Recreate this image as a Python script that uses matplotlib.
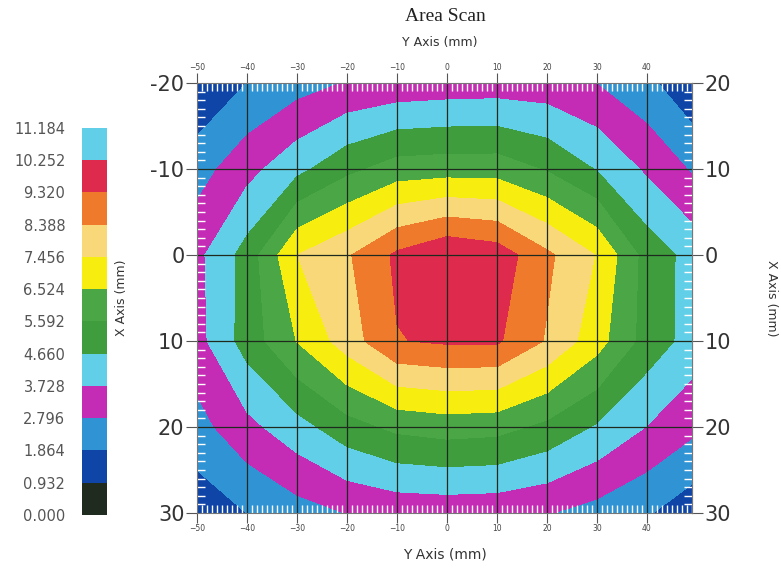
import numpy as np
import matplotlib
matplotlib.use("Agg")
import matplotlib.pyplot as plt
from matplotlib.colors import ListedColormap, BoundaryNorm
from matplotlib.ticker import MultipleLocator

# scan grid (mm)
y_axis_mm = [-50, -40, -30, -20, -10, 0, 10, 20, 30, 40, 50]
x_axis_mm = [-20, -10, 0, 10, 20, 30]

# measured values, one list per X row
row_m20 = [1.00, 1.87, 2.40, 2.85, 3.05, 3.15, 3.20, 3.15, 2.78, 2.10, 1.00]
row_m10 = [2.40, 3.40, 4.39, 5.34, 6.00, 6.10, 6.10, 5.50, 4.60, 3.57, 2.60]
row_0 = [3.48, 5.03, 7.45, 8.27, 9.49, 10.20, 9.86, 8.57, 7.41, 5.20, 4.24]
row_10 = [3.39, 5.06, 6.55, 7.90, 9.28, 9.45, 9.45, 8.30, 6.90, 5.20, 4.20]
row_20 = [2.45, 3.45, 4.30, 5.20, 5.80, 6.00, 5.90, 5.35, 4.55, 3.70, 2.95]
row_30 = [1.28, 1.87, 2.40, 2.82, 3.05, 3.10, 3.05, 2.85, 2.45, 1.95, 1.20]

levels = [0.000, 0.932, 1.864, 2.796, 3.728, 4.660, 5.592, 6.524,
          7.456, 8.388, 9.320, 10.252, 11.184]
band_colors = ['#1f2b1f', '#1045a8', '#3094d4', '#c52cb5', '#62cfe8',
               '#409d3e', '#4ba746', '#f7ee10', '#f9d87a', '#f07a2c',
               '#de2a4c', '#62cfe8']

Z = np.array([row_m20, row_m10, row_0, row_10, row_20, row_30])
cmap = ListedColormap(band_colors)
norm = BoundaryNorm(levels, cmap.N)

fig = plt.figure(figsize=(7.81, 5.72), dpi=100)
ax = fig.add_axes([0.2522, 0.1031, 0.6338, 0.7517])

ax.contourf(y_axis_mm, x_axis_mm, Z, levels=levels, cmap=cmap, norm=norm)
ax.set_xlim(-50, 49)
ax.set_ylim(30, -20)

# grid
for gx in range(-40, 50, 10):
    ax.axvline(gx, color='#1e2a1e', lw=0.9)
for gy in range(-10, 30, 10):
    ax.axhline(gy, color='#1e2a1e', lw=0.9)

for s in ax.spines.values():
    s.set_color('#777777')

ax.xaxis.set_minor_locator(MultipleLocator(1))
ax.yaxis.set_minor_locator(MultipleLocator(1))

ax.set_xticks(range(-50, 50, 10))
ax.set_yticks(range(-20, 31, 10))
ax.set_yticklabels(['-20', '-10', '0', '10', '20', '30'])

ax.tick_params(axis='x', which='major', top=True, bottom=True,
               labeltop=True, labelbottom=True, direction='out',
               length=7, color='#555555', labelsize=5.5, labelcolor='#444444',
               pad=1)
ax.tick_params(axis='y', which='major', left=True, right=False,
               labelleft=True, labelright=False, direction='out',
               length=8, color='#555555', labelsize=15, labelcolor='#333333',
               pad=1)
ax.tick_params(which='minor', top=True, bottom=True, left=True, right=True,
               direction='in', length=6, width=1, color='white')

sec = ax.secondary_yaxis('right')
sec.set_yticks(range(-20, 31, 10))
sec.set_yticklabels(['20', '10', '0', '10', '20', '30'])
sec.tick_params(direction='out', length=8, color='#555555', labelsize=15,
                labelcolor='#333333', pad=1)
sec.spines['right'].set_color('#777777')
sec.set_ylabel('X Axis (mm)', rotation=270, labelpad=34, fontsize=9,
               color='#333333')

ax.set_xlabel('Y Axis (mm)', fontsize=10, color='#333333', labelpad=10)
ax.set_ylabel('X Axis (mm)', fontsize=9, color='#333333', labelpad=16)
fig.text(0.5634, 0.925, 'Y Axis (mm)', ha='center', va='center',
         fontsize=9, color='#333333')
fig.text(0.570, 0.972, 'Area Scan', ha='center', va='center',
         fontsize=14, family='Liberation Serif', color='#222222')

# colour key on the left
cax = fig.add_axes([0.105, 0.0997, 0.032, 0.6766])
cb = fig.colorbar(matplotlib.cm.ScalarMappable(norm=norm, cmap=cmap),
                  cax=cax, ticks=levels, spacing='uniform')
cb.outline.set_visible(False)
cax.yaxis.set_ticks_position('left')
cax.tick_params(length=0, labelsize=10.5, labelcolor='#555555', pad=12)
cb.set_ticklabels(['%.3f' % v for v in levels])

fig.savefig('out.png', dpi=100)
